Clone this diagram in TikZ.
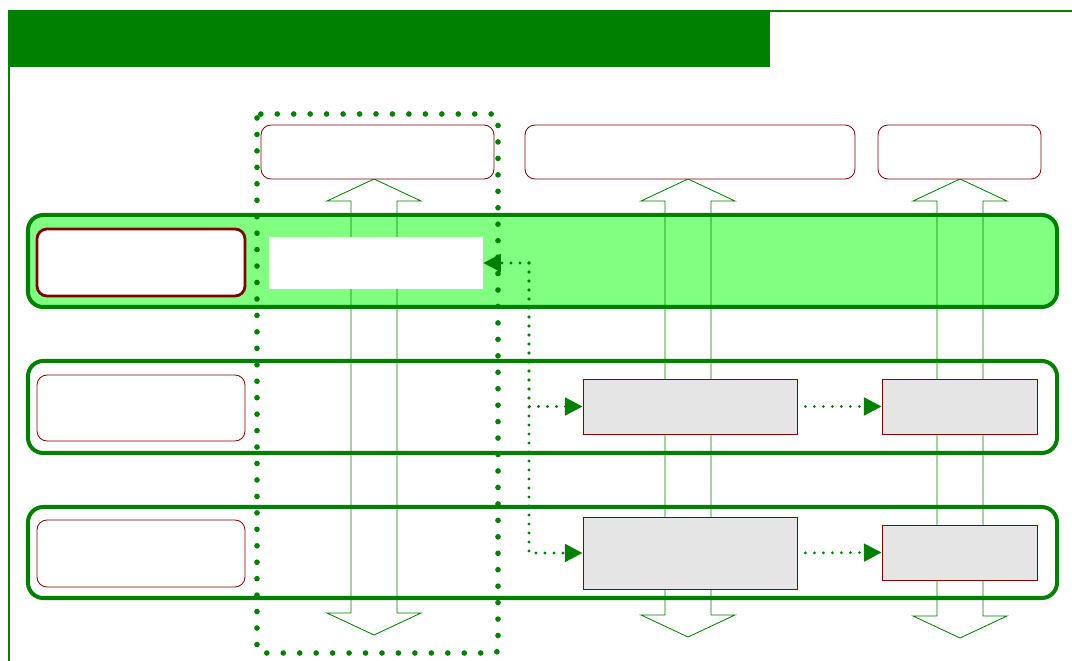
\documentclass[tikz,border=0pt]{standalone}
\usetikzlibrary{arrows.meta,positioning,fit,backgrounds}
\definecolor{bpgreen}{HTML}{008000}
\definecolor{bplime}{HTML}{80FF80}
\definecolor{bpred}{HTML}{800000}
\definecolor{bpgrey}{HTML}{E5E5E5}

\begin{document}
\begin{tikzpicture}[x=0.025cm,y=-0.025cm,
  lane/.style={draw=bpgreen,line width=0.1cm,rounded corners=0.38cm,inner sep=0pt},
  hdr/.style={draw=bpred,line width=0.6pt,fill=white,rounded corners=0.25cm,inner sep=0pt},
  lbl/.style={draw=bpred,line width=0.6pt,fill=white,rounded corners=0.25cm,inner sep=0pt},
  gbox/.style={draw=bpred,line width=0.6pt,fill=bpgrey,inner sep=0pt},
  flow/.style={draw=bpgreen,line width=0.6pt},
  dotc/.style={bpgreen,line width=2.2pt,line cap=round,dash pattern=on 0pt off 6.4pt,
    -{Triangle[length=0.44cm,width=0.44cm]}},
  grp/.style={bpgreen,line width=4pt,line cap=round,dash pattern=on 0pt off 11.7pt,
    rounded corners=0.1cm}]
  \useasboundingbox (0,0) rectangle (1072,661);
  % frame
  \node[fill=bpgreen,inner sep=0pt,fit={(8,10) (770,67)}] (title) {};
  \draw[bpgreen,line width=1.4pt] (770,11) -- (1072,11);
  \draw[bpgreen,line width=1.6pt] (9,10) -- (9,661);
  % lanes
  \node[lane,fill=bplime,fit={(28,215) (1057,307)}] (lane1) {};
  \node[lane,fit={(28,361) (1057,453)}] (lane2) {};
  \node[lane,fit={(28,507) (1057,598)}] (lane3) {};
  % hollow double arrows
  \foreach \cx/\tb in {374/635, 688/637, 960/638}
    \draw[flow] (\cx-23,201) -- (\cx-47,201) -- (\cx,179) -- (\cx+47,201) -- (\cx+23,201)
      -- (\cx+23,\tb-22) -- (\cx+47,\tb-22) -- (\cx,\tb) -- (\cx-47,\tb-22) -- (\cx-23,\tb-22) -- cycle;
  % headers
  \node[hdr,fit={(261,125) (494,179)}] (hdr1) {};
  \node[hdr,fit={(525,125) (855,179)}] (hdr2) {};
  \node[hdr,fit={(878,125) (1041,179)}] (hdr3) {};
  % lane labels
  \node[lbl,line width=2pt,fit={(37,229) (245,296)}] (lab1) {};
  \node[lbl,fit={(37,375) (245,441)}] (lab2) {};
  \node[lbl,fit={(37,520) (245,587)}] (lab3) {};
  % boxes
  \node[fill=white,inner sep=0pt,fit={(269,237) (483,289)}] (wr) {};
  \node[gbox,fit={(583,379) (797,434)}] (g1) {};
  \node[gbox,fit={(882,379) (1037,434)}] (g2) {};
  \node[gbox,fit={(583,517) (797,589)}] (g3) {};
  \node[gbox,fit={(882,525) (1037,580)}] (g4) {};
  % dotted connectors
  \coordinate (split) at (529,263);
  \draw[dotc] (split) -- (wr.east);
  \draw[dotc] (split) |- (g1.west);
  \draw[dotc] (split) |- (g3.west);
  \draw[dotc,shorten <=0.2cm] (g1.east) -- (g2.west);
  \draw[dotc,shorten <=0.2cm] (g3.east) -- (g4.west);
  % group
  \draw[grp] (257,114) rectangle (498,653);
\end{tikzpicture}
\end{document}
